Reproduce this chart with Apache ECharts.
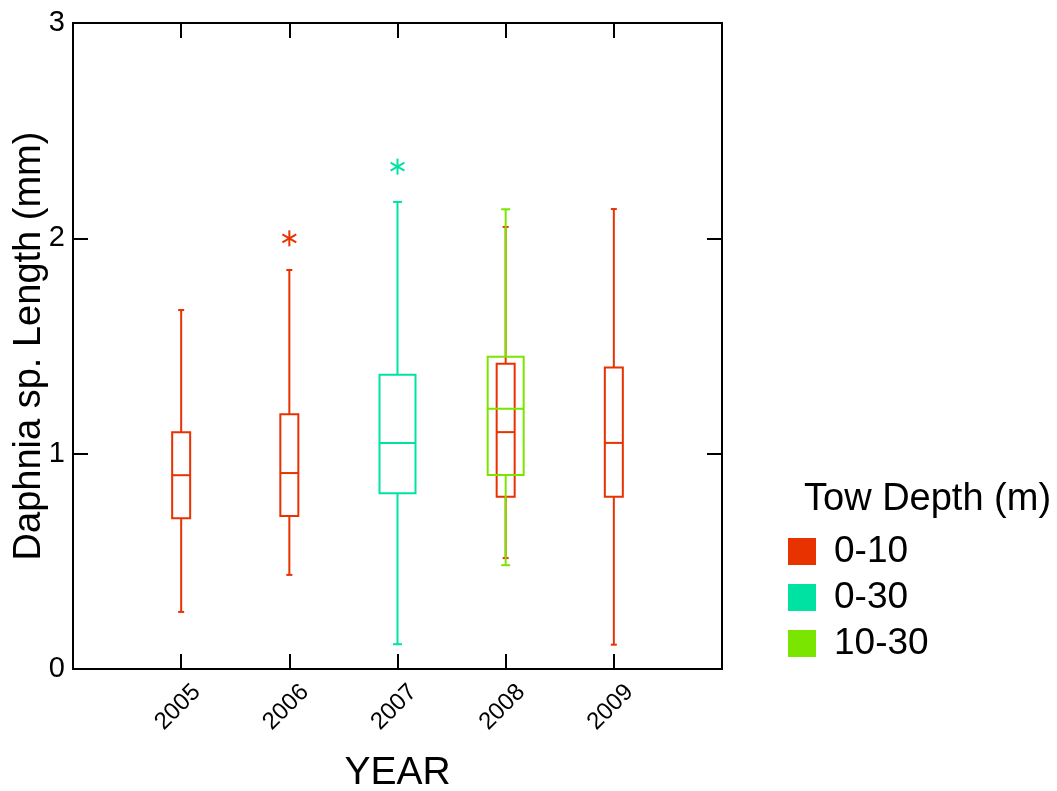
<!DOCTYPE html>
<html>
<head>
<meta charset="utf-8">
<script src="https://cdn.jsdelivr.net/npm/echarts@6/dist/echarts.min.js"></script>
<style>
html,body{margin:0;padding:0;background:#fff;}
#chart{width:1057px;height:791px;}
</style>
</head>
<body>
<div id="chart"></div>
<script>
// ---- data ----
const categories = [2005, 2006, 2007, 2008, 2009];
const yTicks = [0, 1, 2, 3];
const groupNames = ['0-10', '0-30', '10-30'];
const groupColors = ['#E83200', '#00E2A2', '#7AE600'];

// box stats: [year, min, Q1, median, Q3, max]
const box0_10 = [
  [2005, 0.265, 0.700, 0.900, 1.100, 1.667],
  [2006, 0.437, 0.711, 0.910, 1.183, 1.853],
  [2008, 0.515, 0.800, 1.100, 1.418, 2.053],
  [2009, 0.113, 0.800, 1.050, 1.400, 2.136]
];
const box0_30 = [
  [2007, 0.115, 0.816, 1.050, 1.367, 2.169]
];
const box10_30 = [
  [2008, 0.482, 0.901, 1.209, 1.450, 2.135]
];
// outliers: [year, value]
const out0_10 = [[2006, 2.000]];
const out0_30 = [[2007, 2.333]];
const out10_30 = [];

const FONT = '"Liberation Sans", Arial, Helvetica, sans-serif';

function boxRenderer(color, boxW, capW) {
  return function (params, api) {
    const x = api.value(0);
    const pMin = api.coord([x, api.value(1)]);
    const pQ1 = api.coord([x, api.value(2)]);
    const pMed = api.coord([x, api.value(3)]);
    const pQ3 = api.coord([x, api.value(4)]);
    const pMax = api.coord([x, api.value(5)]);
    const cx = pMed[0];
    const st = { stroke: color, lineWidth: 2, fill: null };
    return {
      type: 'group',
      children: [
        { type: 'line', shape: { x1: cx, y1: pMax[1], x2: cx, y2: pQ3[1] }, style: st },
        { type: 'line', shape: { x1: cx, y1: pQ1[1], x2: cx, y2: pMin[1] }, style: st },
        { type: 'line', shape: { x1: cx - capW / 2, y1: pMax[1], x2: cx + capW / 2, y2: pMax[1] }, style: st },
        { type: 'line', shape: { x1: cx - capW / 2, y1: pMin[1], x2: cx + capW / 2, y2: pMin[1] }, style: st },
        { type: 'rect', shape: { x: cx - boxW / 2, y: pQ3[1], width: boxW, height: pQ1[1] - pQ3[1] }, style: { stroke: color, lineWidth: 2, fill: 'none' } },
        { type: 'line', shape: { x1: cx - boxW / 2, y1: pMed[1], x2: cx + boxW / 2, y2: pMed[1] }, style: st }
      ]
    };
  };
}

function starRenderer(color, size) {
  return function (params, api) {
    const p = api.coord([api.value(0), api.value(1)]);
    const r = size / 2;
    const dx = r * Math.cos(Math.PI / 6), dy = r * Math.sin(Math.PI / 6);
    const st = { stroke: color, lineWidth: 2 };
    return {
      type: 'group',
      children: [
        { type: 'line', shape: { x1: p[0], y1: p[1] - r, x2: p[0], y2: p[1] + r }, style: st },
        { type: 'line', shape: { x1: p[0] - dx, y1: p[1] - dy, x2: p[0] + dx, y2: p[1] + dy }, style: st },
        { type: 'line', shape: { x1: p[0] - dx, y1: p[1] + dy, x2: p[0] + dx, y2: p[1] - dy }, style: st }
      ]
    };
  };
}

const boxData = [box0_10, box0_30, box10_30];
const outData = [out0_10, out0_30, out10_30];
const boxWidths = [18, 36, 36];
const capWidths = [6, 9, 9];

const series = [];
for (let i = 0; i < groupNames.length; i++) {
  series.push({
    name: groupNames[i], type: 'custom', xAxisIndex: 0, yAxisIndex: 0,
    itemStyle: { color: groupColors[i] },
    renderItem: boxRenderer(groupColors[i], boxWidths[i], capWidths[i]),
    data: boxData[i], encode: { x: 0, y: [1, 2, 3, 4, 5] }, silent: true, z: 2 + i
  });
  series.push({
    name: groupNames[i], type: 'custom', xAxisIndex: 0, yAxisIndex: 0,
    itemStyle: { color: groupColors[i] },
    renderItem: starRenderer(groupColors[i], 16),
    data: outData[i], encode: { x: 0, y: 1 }, silent: true, z: 2 + i
  });
}

const axisLine = { show: true, onZero: false, lineStyle: { color: '#000', width: 2 } };
const tick = { show: true, inside: true, length: 15, lineStyle: { color: '#000', width: 2 } };

const option = {
  animation: false,
  backgroundColor: '#fff',
  textStyle: { fontFamily: FONT },
  title: {
    text: 'Tow Depth (m)', left: 804, top: 481, padding: 0,
    textStyle: { fontSize: 38, fontWeight: 'normal', color: '#000', fontFamily: FONT }
  },
  legend: {
    data: groupNames, orient: 'vertical', left: 788, top: 533,
    icon: 'rect', itemWidth: 28, itemHeight: 27, itemGap: 9, padding: 0,
    selectedMode: false,
    textStyle: { fontSize: 37, color: '#000', fontFamily: FONT, lineHeight: 28, padding: [0, 0, 0, 13] }
  },
  grid: { left: 73, right: 335, top: 23, bottom: 122, show: true, borderColor: '#000', borderWidth: 2, containLabel: false, outerBoundsMode: 'none' },
  xAxis: [
    {
      type: 'value', position: 'bottom', min: 2004, max: 2010, interval: 1,
      axisLine: axisLine, axisTick: tick, splitLine: { show: false },
      axisLabel: {
        formatter: v => categories.indexOf(v) >= 0 ? String(v) : '',
        rotate: 45, align: 'right', verticalAlign: 'top', margin: 18,
        padding: [0, -10, 0, 0],
        fontSize: 24, color: '#000', fontFamily: FONT
      },
      name: 'YEAR', nameLocation: 'middle', nameGap: 85, nameMoveOverlap: false,
      nameTextStyle: { fontSize: 39, color: '#000', fontFamily: FONT }
    },
    {
      type: 'value', position: 'top', min: 2004, max: 2010, interval: 1,
      axisLine: axisLine, axisTick: tick, splitLine: { show: false }, axisLabel: { show: false }
    }
  ],
  yAxis: [
    {
      type: 'value', position: 'left', min: 0, max: 3, interval: 1,
      axisLine: axisLine, axisTick: tick, splitLine: { show: false },
      axisLabel: {
        formatter: v => yTicks.indexOf(v) >= 0 ? String(v) : '',
        margin: 8, fontSize: 29, color: '#000', fontFamily: FONT
      },
      name: 'Daphnia sp. Length (mm)', nameLocation: 'middle', nameGap: 24, nameMoveOverlap: false,
      nameTextStyle: { fontSize: 38, color: '#000', fontFamily: FONT }
    },
    {
      type: 'value', position: 'right', min: 0, max: 3, interval: 1,
      axisLine: axisLine, axisTick: tick, splitLine: { show: false }, axisLabel: { show: false }
    }
  ],
  series: series
};

const chart = echarts.init(document.getElementById('chart'), null, { renderer: 'canvas' });
chart.setOption(option);
</script>
</body>
</html>
